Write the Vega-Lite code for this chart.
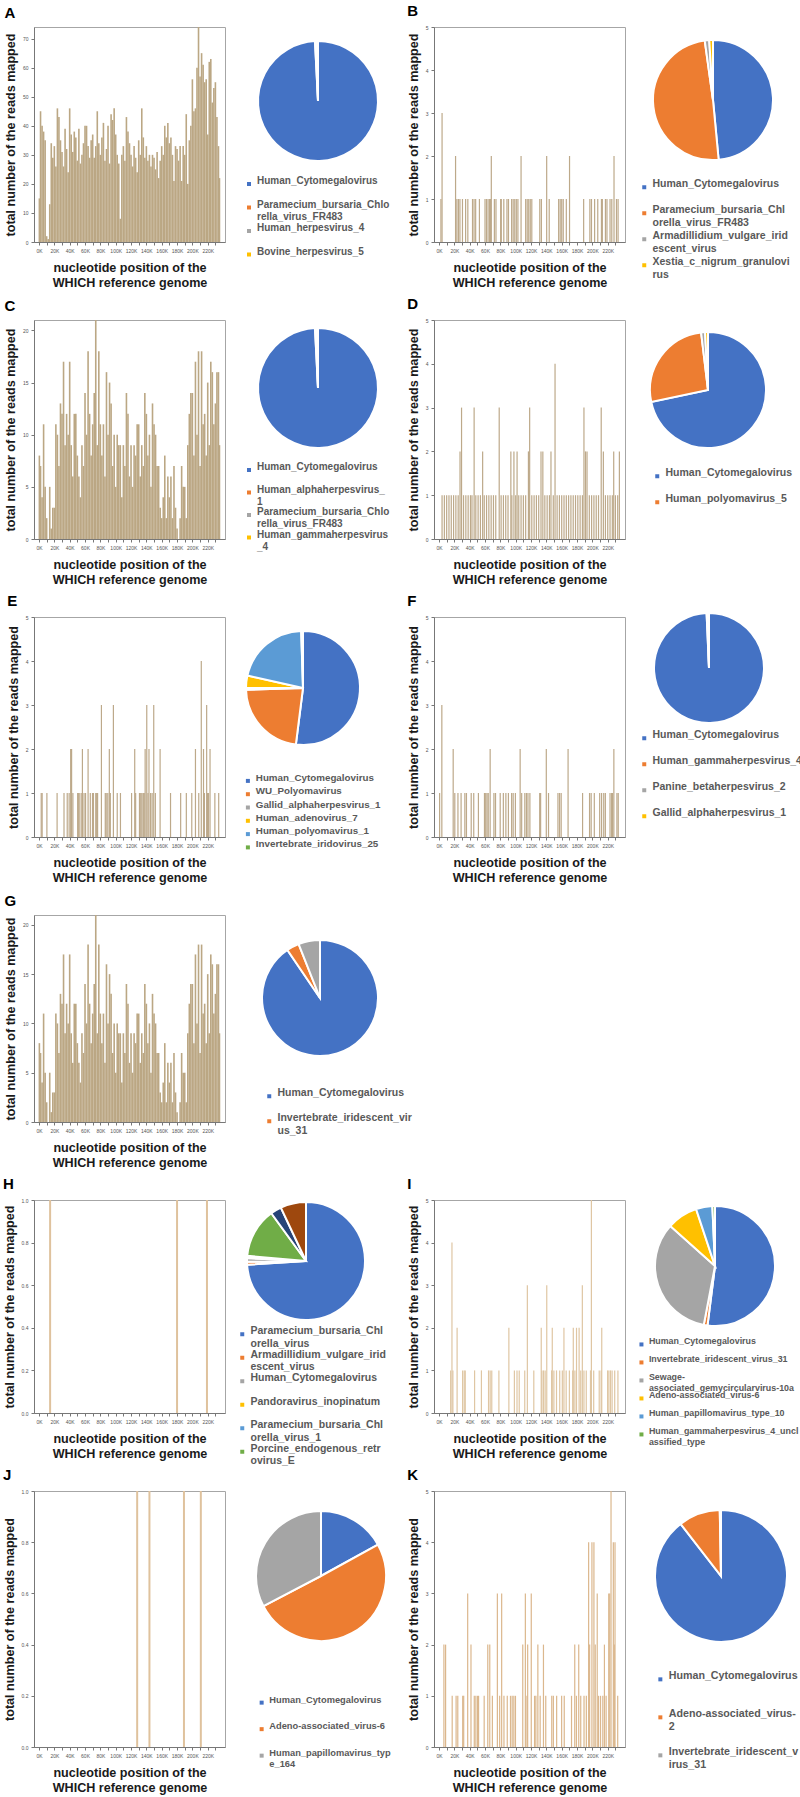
{
"$schema": "https://vega.github.io/schema/vega-lite/v6.json",
"padding": {"left": 2, "top": 3, "right": 0, "bottom": 0},
"config": {
  "font": "Liberation Sans",
  "view": {"stroke": "#a6a6a6"},
  "axis": {"grid": false, "labelFontSize": 5, "labelColor": "#555555", "tickColor": "#777777", "domainColor": "#777777", "tickSize": 3, "labelPadding": 3, "titleFontSize": 12.6, "titleFontWeight": "bold", "titleColor": "#1a1a1a", "labelOverlap": false, "labelFlush": false},
  "axisX": {"titlePadding": 8, "titleLineHeight": 15},
  "axisY": {"titlePadding": 5},
  "title": {"fontSize": 15, "fontWeight": "bold", "anchor": "start", "frame": "bounds", "offset": 6, "color": "#000000"},
  "legend": {"direction": "vertical", "columns": 1, "gridAlign": "all", "symbolType": "square", "symbolSize": 16, "symbolStrokeWidth": 0, "labelFontWeight": "bold", "labelColor": "#595959", "labelLimit": 400, "padding": 0, "labelOffset": 3, "labelBaseline": "alphabetic", "title": null}
},
"datasets": {
  "A": [{"pos":500,"reads":15},{"pos":2000,"reads":45},{"pos":4000,"reads":40},{"pos":6000,"reads":38},{"pos":8000,"reads":35},{"pos":10000,"reads":2},{"pos":12000,"reads":1},{"pos":14000,"reads":13},{"pos":16000,"reads":34},{"pos":18000,"reads":29},{"pos":20000,"reads":33},{"pos":22000,"reads":26},{"pos":24000,"reads":46},{"pos":26000,"reads":43},{"pos":28000,"reads":35},{"pos":30000,"reads":31},{"pos":32000,"reads":26},{"pos":34000,"reads":39},{"pos":36000,"reads":32},{"pos":38000,"reads":24},{"pos":40000,"reads":46},{"pos":42000,"reads":37},{"pos":44000,"reads":31},{"pos":46000,"reads":38},{"pos":48000,"reads":36},{"pos":50000,"reads":28},{"pos":52000,"reads":39},{"pos":54000,"reads":27},{"pos":56000,"reads":30},{"pos":58000,"reads":34},{"pos":60000,"reads":40},{"pos":62000,"reads":40},{"pos":64000,"reads":33},{"pos":66000,"reads":29},{"pos":68000,"reads":35},{"pos":70000,"reads":37},{"pos":72000,"reads":29},{"pos":74000,"reads":33},{"pos":76000,"reads":45},{"pos":78000,"reads":34},{"pos":80000,"reads":30},{"pos":82000,"reads":36},{"pos":84000,"reads":41},{"pos":86000,"reads":28},{"pos":88000,"reads":32},{"pos":90000,"reads":40},{"pos":92000,"reads":27},{"pos":94000,"reads":44},{"pos":96000,"reads":42},{"pos":98000,"reads":46},{"pos":100000,"reads":37},{"pos":102000,"reads":30},{"pos":104000,"reads":27},{"pos":106000,"reads":8},{"pos":108000,"reads":30},{"pos":110000,"reads":33},{"pos":112000,"reads":28},{"pos":114000,"reads":43},{"pos":116000,"reads":38},{"pos":118000,"reads":34},{"pos":120000,"reads":30},{"pos":122000,"reads":26},{"pos":124000,"reads":33},{"pos":126000,"reads":29},{"pos":128000,"reads":24},{"pos":130000,"reads":35},{"pos":132000,"reads":30},{"pos":134000,"reads":46},{"pos":136000,"reads":36},{"pos":138000,"reads":29},{"pos":140000,"reads":33},{"pos":142000,"reads":28},{"pos":144000,"reads":30},{"pos":146000,"reads":26},{"pos":148000,"reads":30},{"pos":150000,"reads":29},{"pos":152000,"reads":25},{"pos":154000,"reads":31},{"pos":156000,"reads":22},{"pos":158000,"reads":28},{"pos":160000,"reads":33},{"pos":162000,"reads":30},{"pos":164000,"reads":40},{"pos":166000,"reads":36},{"pos":168000,"reads":41},{"pos":170000,"reads":34},{"pos":172000,"reads":36},{"pos":174000,"reads":30},{"pos":176000,"reads":21},{"pos":178000,"reads":33},{"pos":180000,"reads":32},{"pos":182000,"reads":28},{"pos":184000,"reads":33},{"pos":186000,"reads":21},{"pos":188000,"reads":33},{"pos":190000,"reads":30},{"pos":192000,"reads":44},{"pos":194000,"reads":20},{"pos":196000,"reads":35},{"pos":198000,"reads":40},{"pos":200000,"reads":56},{"pos":202000,"reads":45},{"pos":204000,"reads":46},{"pos":206000,"reads":60},{"pos":208000,"reads":74},{"pos":210000,"reads":57},{"pos":212000,"reads":65},{"pos":214000,"reads":61},{"pos":216000,"reads":55},{"pos":218000,"reads":56},{"pos":220000,"reads":37},{"pos":222000,"reads":62},{"pos":224000,"reads":63},{"pos":226000,"reads":48},{"pos":228000,"reads":53},{"pos":230000,"reads":55},{"pos":232000,"reads":43},{"pos":234000,"reads":33},{"pos":235300,"reads":22}],
  "C": [{"pos":500,"reads":8},{"pos":2000,"reads":7},{"pos":4000,"reads":4},{"pos":6000,"reads":11},{"pos":8000,"reads":5},{"pos":10000,"reads":2},{"pos":14000,"reads":5},{"pos":16000,"reads":1},{"pos":18000,"reads":3},{"pos":20000,"reads":3},{"pos":22000,"reads":11},{"pos":24000,"reads":10},{"pos":26000,"reads":7},{"pos":28000,"reads":13},{"pos":30000,"reads":12},{"pos":32000,"reads":17},{"pos":34000,"reads":9},{"pos":36000,"reads":12},{"pos":38000,"reads":10},{"pos":40000,"reads":17},{"pos":42000,"reads":9},{"pos":44000,"reads":6},{"pos":46000,"reads":12},{"pos":48000,"reads":12},{"pos":50000,"reads":8},{"pos":52000,"reads":6},{"pos":54000,"reads":4},{"pos":56000,"reads":9},{"pos":58000,"reads":7},{"pos":60000,"reads":14},{"pos":62000,"reads":10},{"pos":64000,"reads":18},{"pos":66000,"reads":12},{"pos":68000,"reads":8},{"pos":70000,"reads":11},{"pos":72000,"reads":14},{"pos":74000,"reads":21},{"pos":76000,"reads":9},{"pos":78000,"reads":18},{"pos":80000,"reads":11},{"pos":82000,"reads":8},{"pos":84000,"reads":11},{"pos":86000,"reads":6},{"pos":88000,"reads":16},{"pos":90000,"reads":10},{"pos":92000,"reads":15},{"pos":94000,"reads":13},{"pos":96000,"reads":7},{"pos":98000,"reads":10},{"pos":100000,"reads":5},{"pos":102000,"reads":10},{"pos":104000,"reads":9},{"pos":106000,"reads":9},{"pos":108000,"reads":4},{"pos":110000,"reads":9},{"pos":112000,"reads":7},{"pos":114000,"reads":14},{"pos":116000,"reads":12},{"pos":118000,"reads":6},{"pos":120000,"reads":9},{"pos":122000,"reads":5},{"pos":124000,"reads":9},{"pos":126000,"reads":8},{"pos":128000,"reads":11},{"pos":130000,"reads":11},{"pos":132000,"reads":6},{"pos":134000,"reads":9},{"pos":136000,"reads":7},{"pos":138000,"reads":14},{"pos":140000,"reads":12},{"pos":142000,"reads":8},{"pos":144000,"reads":10},{"pos":146000,"reads":5},{"pos":148000,"reads":13},{"pos":150000,"reads":11},{"pos":152000,"reads":10},{"pos":154000,"reads":7},{"pos":156000,"reads":7},{"pos":158000,"reads":3},{"pos":160000,"reads":2},{"pos":162000,"reads":4},{"pos":164000,"reads":8},{"pos":166000,"reads":2},{"pos":168000,"reads":6},{"pos":170000,"reads":4},{"pos":172000,"reads":6},{"pos":174000,"reads":2},{"pos":176000,"reads":7},{"pos":178000,"reads":3},{"pos":180000,"reads":1},{"pos":184000,"reads":2},{"pos":186000,"reads":7},{"pos":188000,"reads":5},{"pos":190000,"reads":5},{"pos":192000,"reads":2},{"pos":194000,"reads":9},{"pos":196000,"reads":12},{"pos":198000,"reads":14},{"pos":200000,"reads":14},{"pos":202000,"reads":8},{"pos":204000,"reads":17},{"pos":206000,"reads":10},{"pos":208000,"reads":18},{"pos":210000,"reads":7},{"pos":212000,"reads":18},{"pos":214000,"reads":11},{"pos":216000,"reads":12},{"pos":218000,"reads":8},{"pos":220000,"reads":15},{"pos":222000,"reads":9},{"pos":224000,"reads":17},{"pos":226000,"reads":16},{"pos":228000,"reads":11},{"pos":230000,"reads":13},{"pos":232000,"reads":16},{"pos":234000,"reads":16},{"pos":235300,"reads":9}],
  "B": [{"pos":2500,"reads":1},{"pos":4000,"reads":3},{"pos":21600,"reads":2},{"pos":23300,"reads":1},{"pos":25300,"reads":1},{"pos":27300,"reads":1},{"pos":30600,"reads":1},{"pos":34700,"reads":1},{"pos":37600,"reads":1},{"pos":43700,"reads":1},{"pos":45700,"reads":1},{"pos":47800,"reads":1},{"pos":52700,"reads":1},{"pos":60000,"reads":1},{"pos":62000,"reads":1},{"pos":64000,"reads":1},{"pos":66000,"reads":1},{"pos":67300,"reads":1},{"pos":68200,"reads":2},{"pos":72200,"reads":1},{"pos":74300,"reads":1},{"pos":80400,"reads":1},{"pos":81200,"reads":1},{"pos":84500,"reads":1},{"pos":88600,"reads":1},{"pos":90600,"reads":1},{"pos":94700,"reads":1},{"pos":96700,"reads":1},{"pos":98800,"reads":1},{"pos":100800,"reads":1},{"pos":102900,"reads":1},{"pos":107000,"reads":2},{"pos":113000,"reads":1},{"pos":115000,"reads":1},{"pos":117000,"reads":1},{"pos":119000,"reads":1},{"pos":121000,"reads":1},{"pos":131400,"reads":1},{"pos":133500,"reads":1},{"pos":140400,"reads":2},{"pos":143700,"reads":1},{"pos":156000,"reads":1},{"pos":158000,"reads":1},{"pos":160000,"reads":1},{"pos":162000,"reads":1},{"pos":166000,"reads":1},{"pos":170200,"reads":2},{"pos":188600,"reads":1},{"pos":196700,"reads":1},{"pos":198800,"reads":1},{"pos":202900,"reads":1},{"pos":207000,"reads":1},{"pos":211800,"reads":1},{"pos":213000,"reads":1},{"pos":217000,"reads":1},{"pos":219000,"reads":1},{"pos":223000,"reads":1},{"pos":225300,"reads":1},{"pos":228200,"reads":2},{"pos":231400,"reads":1},{"pos":233500,"reads":1}],
  "D": [{"pos":27400,"reads":2},{"pos":29400,"reads":3},{"pos":45800,"reads":3},{"pos":56900,"reads":2},{"pos":78500,"reads":3},{"pos":93700,"reads":2},{"pos":97700,"reads":2},{"pos":101800,"reads":2},{"pos":116600,"reads":2},{"pos":118200,"reads":3},{"pos":133000,"reads":2},{"pos":135400,"reads":2},{"pos":146000,"reads":2},{"pos":151300,"reads":4},{"pos":189000,"reads":3},{"pos":191000,"reads":2},{"pos":193000,"reads":2},{"pos":211500,"reads":3},{"pos":214300,"reads":2},{"pos":227800,"reads":2},{"pos":235200,"reads":2},{"pos":4000,"reads":1},{"pos":7000,"reads":1},{"pos":10000,"reads":1},{"pos":13000,"reads":1},{"pos":16000,"reads":1},{"pos":19000,"reads":1},{"pos":22000,"reads":1},{"pos":25000,"reads":1},{"pos":32000,"reads":1},{"pos":35000,"reads":1},{"pos":38000,"reads":1},{"pos":41000,"reads":1},{"pos":43000,"reads":1},{"pos":48000,"reads":1},{"pos":51000,"reads":1},{"pos":54000,"reads":1},{"pos":59000,"reads":1},{"pos":62000,"reads":1},{"pos":65000,"reads":1},{"pos":68000,"reads":1},{"pos":71000,"reads":1},{"pos":74000,"reads":1},{"pos":81000,"reads":1},{"pos":84000,"reads":1},{"pos":87000,"reads":1},{"pos":90000,"reads":1},{"pos":95000,"reads":1},{"pos":100000,"reads":1},{"pos":104000,"reads":1},{"pos":107000,"reads":1},{"pos":110000,"reads":1},{"pos":113000,"reads":1},{"pos":121000,"reads":1},{"pos":124000,"reads":1},{"pos":127000,"reads":1},{"pos":130000,"reads":1},{"pos":138000,"reads":1},{"pos":141000,"reads":1},{"pos":144000,"reads":1},{"pos":149000,"reads":1},{"pos":154000,"reads":1},{"pos":157000,"reads":1},{"pos":160000,"reads":1},{"pos":163000,"reads":1},{"pos":166000,"reads":1},{"pos":169000,"reads":1},{"pos":172000,"reads":1},{"pos":175000,"reads":1},{"pos":178000,"reads":1},{"pos":181000,"reads":1},{"pos":184000,"reads":1},{"pos":187000,"reads":1},{"pos":196000,"reads":1},{"pos":199000,"reads":1},{"pos":202000,"reads":1},{"pos":205000,"reads":1},{"pos":208000,"reads":1},{"pos":217000,"reads":1},{"pos":220000,"reads":1},{"pos":223000,"reads":1},{"pos":226000,"reads":1},{"pos":230000,"reads":1},{"pos":233000,"reads":1}],
  "E": [{"pos":81400,"reads":3},{"pos":97000,"reads":3},{"pos":140500,"reads":3},{"pos":149600,"reads":3},{"pos":211600,"reads":4},{"pos":218600,"reads":3},{"pos":41300,"reads":2},{"pos":42500,"reads":2},{"pos":56600,"reads":2},{"pos":64000,"reads":2},{"pos":91700,"reads":2},{"pos":124800,"reads":2},{"pos":138400,"reads":2},{"pos":143400,"reads":2},{"pos":157900,"reads":2},{"pos":204000,"reads":2},{"pos":214500,"reads":2},{"pos":223000,"reads":2},{"pos":2900,"reads":1},{"pos":4100,"reads":1},{"pos":10300,"reads":1},{"pos":23600,"reads":1},{"pos":32600,"reads":1},{"pos":36800,"reads":1},{"pos":39300,"reads":1},{"pos":44200,"reads":1},{"pos":50400,"reads":1},{"pos":51700,"reads":1},{"pos":53300,"reads":1},{"pos":55800,"reads":1},{"pos":58700,"reads":1},{"pos":60700,"reads":1},{"pos":66900,"reads":1},{"pos":69800,"reads":1},{"pos":71000,"reads":1},{"pos":74000,"reads":1},{"pos":75200,"reads":1},{"pos":76400,"reads":1},{"pos":86400,"reads":1},{"pos":87600,"reads":1},{"pos":89700,"reads":1},{"pos":93000,"reads":1},{"pos":102000,"reads":1},{"pos":106200,"reads":1},{"pos":120700,"reads":1},{"pos":126000,"reads":1},{"pos":131000,"reads":1},{"pos":131800,"reads":1},{"pos":133000,"reads":1},{"pos":134300,"reads":1},{"pos":136000,"reads":1},{"pos":137200,"reads":1},{"pos":142100,"reads":1},{"pos":145500,"reads":1},{"pos":147500,"reads":1},{"pos":151700,"reads":1},{"pos":171500,"reads":1},{"pos":184700,"reads":1},{"pos":192100,"reads":1},{"pos":199200,"reads":1},{"pos":208300,"reads":1},{"pos":215700,"reads":1},{"pos":219800,"reads":1},{"pos":221000,"reads":1},{"pos":229300,"reads":1},{"pos":234300,"reads":1}],
  "F": [{"pos":3700,"reads":3},{"pos":18500,"reads":2},{"pos":66700,"reads":2},{"pos":105800,"reads":2},{"pos":139900,"reads":2},{"pos":168300,"reads":2},{"pos":228000,"reads":2},{"pos":800,"reads":1},{"pos":20600,"reads":1},{"pos":24700,"reads":1},{"pos":28800,"reads":1},{"pos":33700,"reads":1},{"pos":35800,"reads":1},{"pos":42000,"reads":1},{"pos":45300,"reads":1},{"pos":51400,"reads":1},{"pos":59300,"reads":1},{"pos":60900,"reads":1},{"pos":62600,"reads":1},{"pos":64200,"reads":1},{"pos":71600,"reads":1},{"pos":73700,"reads":1},{"pos":79800,"reads":1},{"pos":83900,"reads":1},{"pos":87200,"reads":1},{"pos":90500,"reads":1},{"pos":94700,"reads":1},{"pos":96700,"reads":1},{"pos":99600,"reads":1},{"pos":107800,"reads":1},{"pos":111900,"reads":1},{"pos":114000,"reads":1},{"pos":116000,"reads":1},{"pos":118500,"reads":1},{"pos":131300,"reads":1},{"pos":132500,"reads":1},{"pos":142800,"reads":1},{"pos":155100,"reads":1},{"pos":157200,"reads":1},{"pos":159300,"reads":1},{"pos":187200,"reads":1},{"pos":196300,"reads":1},{"pos":198400,"reads":1},{"pos":202500,"reads":1},{"pos":209500,"reads":1},{"pos":212000,"reads":1},{"pos":214800,"reads":1},{"pos":216900,"reads":1},{"pos":223000,"reads":1},{"pos":225100,"reads":1},{"pos":226300,"reads":1},{"pos":232000,"reads":1},{"pos":233700,"reads":1}],
  "H": [{"pos":14500,"reads":1},{"pos":180000,"reads":1},{"pos":219000,"reads":1}],
  "I": [{"pos":16900,"reads":4},{"pos":198700,"reads":5},{"pos":115200,"reads":3},{"pos":140500,"reads":3},{"pos":186900,"reads":3},{"pos":23600,"reads":2},{"pos":91100,"reads":2},{"pos":133300,"reads":2},{"pos":147700,"reads":2},{"pos":162900,"reads":2},{"pos":175100,"reads":2},{"pos":179300,"reads":2},{"pos":182700,"reads":2},{"pos":212200,"reads":2},{"pos":15200,"reads":1},{"pos":18100,"reads":1},{"pos":30800,"reads":1},{"pos":32900,"reads":1},{"pos":34200,"reads":1},{"pos":46400,"reads":1},{"pos":55300,"reads":1},{"pos":64600,"reads":1},{"pos":66700,"reads":1},{"pos":68800,"reads":1},{"pos":78100,"reads":1},{"pos":98300,"reads":1},{"pos":101700,"reads":1},{"pos":104600,"reads":1},{"pos":111800,"reads":1},{"pos":123600,"reads":1},{"pos":134200,"reads":1},{"pos":136300,"reads":1},{"pos":138400,"reads":1},{"pos":146800,"reads":1},{"pos":149800,"reads":1},{"pos":153200,"reads":1},{"pos":157400,"reads":1},{"pos":160800,"reads":1},{"pos":165800,"reads":1},{"pos":170000,"reads":1},{"pos":174300,"reads":1},{"pos":177200,"reads":1},{"pos":184800,"reads":1},{"pos":189000,"reads":1},{"pos":192000,"reads":1},{"pos":197500,"reads":1},{"pos":201700,"reads":1},{"pos":208900,"reads":1},{"pos":211400,"reads":1},{"pos":219800,"reads":1},{"pos":221500,"reads":1},{"pos":223600,"reads":1},{"pos":225700,"reads":1},{"pos":229100,"reads":1},{"pos":233300,"reads":1}],
  "J": [{"pos":128000,"reads":1},{"pos":144000,"reads":1},{"pos":189000,"reads":1},{"pos":211000,"reads":1}],
  "K": [{"pos":6400,"reads":2},{"pos":8600,"reads":2},{"pos":17200,"reads":1},{"pos":22300,"reads":1},{"pos":24500,"reads":1},{"pos":30900,"reads":1},{"pos":32200,"reads":1},{"pos":37400,"reads":3},{"pos":41700,"reads":2},{"pos":46000,"reads":1},{"pos":48100,"reads":1},{"pos":50300,"reads":1},{"pos":51600,"reads":1},{"pos":58900,"reads":1},{"pos":63600,"reads":2},{"pos":66200,"reads":2},{"pos":69600,"reads":1},{"pos":76100,"reads":3},{"pos":79100,"reads":1},{"pos":81700,"reads":3},{"pos":84700,"reads":1},{"pos":89000,"reads":1},{"pos":93200,"reads":1},{"pos":95400,"reads":1},{"pos":97600,"reads":1},{"pos":99700,"reads":1},{"pos":109200,"reads":2},{"pos":112600,"reads":3},{"pos":114700,"reads":1},{"pos":115600,"reads":2},{"pos":120300,"reads":3},{"pos":124600,"reads":1},{"pos":126300,"reads":1},{"pos":128900,"reads":2},{"pos":131900,"reads":1},{"pos":136200,"reads":2},{"pos":139200,"reads":1},{"pos":147000,"reads":1},{"pos":149100,"reads":1},{"pos":153400,"reads":1},{"pos":159900,"reads":1},{"pos":163300,"reads":1},{"pos":172800,"reads":1},{"pos":177000,"reads":2},{"pos":179200,"reads":1},{"pos":182200,"reads":2},{"pos":184800,"reads":1},{"pos":189100,"reads":1},{"pos":192100,"reads":1},{"pos":195100,"reads":4},{"pos":196400,"reads":2},{"pos":199400,"reads":4},{"pos":202000,"reads":4},{"pos":203700,"reads":2},{"pos":206300,"reads":3},{"pos":208000,"reads":1},{"pos":210600,"reads":1},{"pos":213600,"reads":1},{"pos":215700,"reads":2},{"pos":217900,"reads":1},{"pos":221300,"reads":3},{"pos":222600,"reads":3},{"pos":224300,"reads":5},{"pos":227300,"reads":4},{"pos":228600,"reads":2},{"pos":229500,"reads":4},{"pos":233000,"reads":1}],
  "pA": [{"name":"Human_Cytomegalovirus","k":1,"v":99.2},{"name":"Paramecium_bursaria_Chlorella_virus_FR483","k":2,"v":0.35},{"name":"Human_herpesvirus_4","k":3,"v":0.25},{"name":"Bovine_herpesvirus_5","k":4,"v":0.2}],
  "pB": [{"name":"Human_Cytomegalovirus","k":1,"v":48.5},{"name":"Paramecium_bursaria_Chlorella_virus_FR483","k":2,"v":49.3},{"name":"Armadillidium_vulgare_iridescent_virus","k":3,"v":1.2},{"name":"Xestia_c_nigrum_granulovirus","k":4,"v":1.0}],
  "pC": [{"name":"Human_Cytomegalovirus","k":1,"v":99.2},{"name":"Human_alphaherpesvirus_1","k":2,"v":0.3},{"name":"Paramecium_bursaria_Chlorella_virus_FR483","k":3,"v":0.25},{"name":"Human_gammaherpesvirus_4","k":4,"v":0.25}],
  "pD": [{"name":"Human_Cytomegalovirus","k":1,"v":71.7},{"name":"Human_polyomavirus_5","k":2,"v":26.4},{"name":"Other_species_3","k":3,"v":1.1},{"name":"Other_species_4","k":4,"v":0.8}],
  "pE": [{"name":"Human_Cytomegalovirus","k":1,"v":52},{"name":"WU_Polyomavirus","k":2,"v":22.5},{"name":"Gallid_alphaherpesvirus_1","k":3,"v":0.5},{"name":"Human_adenovirus_7","k":4,"v":3.5},{"name":"Human_polyomavirus_1","k":5,"v":21},{"name":"Invertebrate_iridovirus_25","k":6,"v":0.5}],
  "pF": [{"name":"Human_Cytomegalovirus","k":1,"v":99.3},{"name":"Human_gammaherpesvirus_4","k":2,"v":0.25},{"name":"Panine_betaherpesvirus_2","k":3,"v":0.25},{"name":"Gallid_alphaherpesvirus_1","k":4,"v":0.2}],
  "pG": [{"name":"Human_Cytomegalovirus","k":1,"v":90.5},{"name":"Invertebrate_iridescent_virus_31","k":2,"v":3.5},{"name":"Other_species_3","k":3,"v":6.0}],
  "pH": [{"name":"Paramecium_bursaria_Chlorella_virus","k":1,"v":74},{"name":"Armadillidium_vulgare_iridescent_virus","k":2,"v":0.8},{"name":"Human_Cytomegalovirus","k":3,"v":1.0},{"name":"Pandoravirus_inopinatum","k":4,"v":0.3},{"name":"Paramecium_bursaria_Chlorella_virus_1","k":5,"v":0.3},{"name":"Porcine_endogenous_retrovirus_E","k":6,"v":13.6},{"name":"Other_species_7","k":7,"v":3.0},{"name":"Other_species_8","k":8,"v":7.0}],
  "pI": [{"name":"Human_Cytomegalovirus","k":1,"v":52},{"name":"Invertebrate_iridescent_virus_31","k":2,"v":1.0},{"name":"Sewage-associated_gemycircularvirus-10a","k":3,"v":33.6},{"name":"Adeno-associated_virus-6","k":4,"v":8.3},{"name":"Human_papillomavirus_type_10","k":5,"v":4.4},{"name":"Human_gammaherpesvirus_4_unclassified_type","k":6,"v":0.7}],
  "pJ": [{"name":"Human_Cytomegalovirus","k":1,"v":17},{"name":"Adeno-associated_virus-6","k":2,"v":50.3},{"name":"Human_papillomavirus_type_164","k":3,"v":32.7}],
  "pK": [{"name":"Human_Cytomegalovirus","k":1,"v":89.5},{"name":"Adeno-associated_virus-2","k":2,"v":10.2},{"name":"Invertebrate_iridescent_virus_31","k":3,"v":0.3}]
},
"columns": 4,
"align": {"row": "each", "column": "all"},
"bounds": "flush",
"spacing": {"row": 78, "column": 9},
"resolve": {"scale": {"theta": "independent", "color": "independent"}, "legend": {"color": "independent"}},
"concat": [
  {"width": 191, "height": 215, "title": "A", "data": {"name": "A"},
   "mark": {"type": "bar", "orient": "vertical", "width": 1.6, "color": "#bba784"},
   "encoding": {
     "x": {"field": "pos", "type": "quantitative", "scale": {"domain": [0, 236000], "nice": false}, "axis": {"values": [0,10000,20000,30000,40000,50000,60000,70000,80000,90000,100000,110000,120000,130000,140000,150000,160000,170000,180000,190000,200000,210000,220000,230000], "labelExpr": "datum.value % 20000 == 0 ? (datum.value/1000) + 'K' : ''", "title": ["nucleotide position of the", "WHICH reference genome"]}},
     "y": {"field": "reads", "type": "quantitative", "stack": null, "scale": {"domain": [0, 74], "nice": false}, "axis": {"values": [0,10,20,30,40,50,60,70], "title": "total number of the reads mapped"}}}},
  {"width": 168, "height": 148, "view": {"stroke": null}, "data": {"name": "pA"},
   "mark": {"type": "arc", "outerRadius": 60, "stroke": "white", "strokeWidth": 2},
   "encoding": {
     "theta": {"field": "v", "type": "quantitative", "stack": true},
     "order": {"field": "k", "type": "quantitative"},
     "color": {"field": "name", "type": "nominal", "sort": {"field": "k", "op": "min"}, "scale": {"range": ["#4472C4","#ED7D31","#A5A5A5","#FFC000","#5B9BD5","#70AD47","#264478","#9E480E"]},
       "legend": {"orient": "none", "legendX": 10, "legendY": 152, "labelFontSize": 10, "rowPadding": 1.5, "labelExpr": "datum.label == 'Paramecium_bursaria_Chlorella_virus_FR483' ? ['Paramecium_bursaria_Chlo', 'rella_virus_FR483'] : datum.label"}}}},
  {"width": 191, "height": 215, "title": "B", "data": {"name": "B"},
   "mark": {"type": "bar", "orient": "vertical", "width": 1.2, "color": "#bda98a"},
   "encoding": {
     "x": {"field": "pos", "type": "quantitative", "scale": {"domain": [0, 236000], "nice": false}, "axis": {"values": [0,10000,20000,30000,40000,50000,60000,70000,80000,90000,100000,110000,120000,130000,140000,150000,160000,170000,180000,190000,200000,210000,220000,230000], "labelExpr": "datum.value % 20000 == 0 ? (datum.value/1000) + 'K' : ''", "title": ["nucleotide position of the", "WHICH reference genome"]}},
     "y": {"field": "reads", "type": "quantitative", "stack": null, "scale": {"domain": [0, 5], "nice": false}, "axis": {"values": [0,1,2,3,4,5], "title": "total number of the reads mapped"}}}},
  {"width": 158, "height": 146, "view": {"stroke": null}, "data": {"name": "pB"},
   "mark": {"type": "arc", "outerRadius": 60, "stroke": "white", "strokeWidth": 2},
   "encoding": {
     "theta": {"field": "v", "type": "quantitative", "stack": true},
     "order": {"field": "k", "type": "quantitative"},
     "color": {"field": "name", "type": "nominal", "sort": {"field": "k", "op": "min"}, "scale": {"range": ["#4472C4","#ED7D31","#A5A5A5","#FFC000","#5B9BD5","#70AD47","#264478","#9E480E"]},
       "legend": {"orient": "none", "legendX": 5, "legendY": 155, "labelFontSize": 10.5, "rowPadding": 2, "labelExpr": "datum.label == 'Paramecium_bursaria_Chlorella_virus_FR483' ? ['Paramecium_bursaria_Chl', 'orella_virus_FR483'] : datum.label == 'Armadillidium_vulgare_iridescent_virus' ? ['Armadillidium_vulgare_irid', 'escent_virus'] : datum.label == 'Xestia_c_nigrum_granulovirus' ? ['Xestia_c_nigrum_granulovi', 'rus'] : datum.label"}}}},

  {"width": 191, "height": 219, "title": "C", "data": {"name": "C"},
   "mark": {"type": "bar", "orient": "vertical", "width": 1.6, "color": "#bba784"},
   "encoding": {
     "x": {"field": "pos", "type": "quantitative", "scale": {"domain": [0, 236000], "nice": false}, "axis": {"values": [0,10000,20000,30000,40000,50000,60000,70000,80000,90000,100000,110000,120000,130000,140000,150000,160000,170000,180000,190000,200000,210000,220000,230000], "labelExpr": "datum.value % 20000 == 0 ? (datum.value/1000) + 'K' : ''", "title": ["nucleotide position of the", "WHICH reference genome"]}},
     "y": {"field": "reads", "type": "quantitative", "stack": null, "scale": {"domain": [0, 21], "nice": false}, "axis": {"values": [0,5,10,15,20], "title": "total number of the reads mapped"}}}},
  {"width": 168, "height": 136, "view": {"stroke": null}, "data": {"name": "pC"},
   "mark": {"type": "arc", "outerRadius": 60, "stroke": "white", "strokeWidth": 2},
   "encoding": {
     "theta": {"field": "v", "type": "quantitative", "stack": true},
     "order": {"field": "k", "type": "quantitative"},
     "color": {"field": "name", "type": "nominal", "sort": {"field": "k", "op": "min"}, "scale": {"range": ["#4472C4","#ED7D31","#A5A5A5","#FFC000","#5B9BD5","#70AD47","#264478","#9E480E"]},
       "legend": {"orient": "none", "legendX": 10, "legendY": 145, "labelFontSize": 10, "rowPadding": 0.5, "labelExpr": "datum.label == 'Human_alphaherpesvirus_1' ? ['Human_alphaherpesvirus_', '1'] : datum.label == 'Paramecium_bursaria_Chlorella_virus_FR483' ? ['Paramecium_bursaria_Chlo', 'rella_virus_FR483'] : datum.label == 'Human_gammaherpesvirus_4' ? ['Human_gammaherpesvirus', '_4'] : datum.label"}}}},
  {"width": 191, "height": 219, "title": "D", "data": {"name": "D"},
   "mark": {"type": "bar", "orient": "vertical", "width": 1.2, "color": "#bda98a"},
   "encoding": {
     "x": {"field": "pos", "type": "quantitative", "scale": {"domain": [0, 236000], "nice": false}, "axis": {"values": [0,10000,20000,30000,40000,50000,60000,70000,80000,90000,100000,110000,120000,130000,140000,150000,160000,170000,180000,190000,200000,210000,220000,230000], "labelExpr": "datum.value % 20000 == 0 ? (datum.value/1000) + 'K' : ''", "title": ["nucleotide position of the", "WHICH reference genome"]}},
     "y": {"field": "reads", "type": "quantitative", "stack": null, "scale": {"domain": [0, 5], "nice": false}, "axis": {"values": [0,1,2,3,4,5], "title": "total number of the reads mapped"}}}},
  {"width": 148, "height": 140, "view": {"stroke": null}, "data": {"name": "pD"},
   "mark": {"type": "arc", "outerRadius": 58, "stroke": "white", "strokeWidth": 2},
   "encoding": {
     "theta": {"field": "v", "type": "quantitative", "stack": true},
     "order": {"field": "k", "type": "quantitative"},
     "color": {"field": "name", "type": "nominal", "sort": {"field": "k", "op": "min"}, "scale": {"range": ["#4472C4","#ED7D31","#A5A5A5","#FFC000","#5B9BD5","#70AD47","#264478","#9E480E"]},
       "legend": {"orient": "none", "legendX": 18, "legendY": 151, "labelFontSize": 10.5, "rowPadding": 15, "values": ["Human_Cytomegalovirus", "Human_polyomavirus_5"]}}}},

  {"width": 191, "height": 220, "title": "E", "data": {"name": "E"},
   "mark": {"type": "bar", "orient": "vertical", "width": 1.2, "color": "#bda98a"},
   "encoding": {
     "x": {"field": "pos", "type": "quantitative", "scale": {"domain": [0, 236000], "nice": false}, "axis": {"values": [0,10000,20000,30000,40000,50000,60000,70000,80000,90000,100000,110000,120000,130000,140000,150000,160000,170000,180000,190000,200000,210000,220000,230000], "labelExpr": "datum.value % 20000 == 0 ? (datum.value/1000) + 'K' : ''", "title": ["nucleotide position of the", "WHICH reference genome"]}},
     "y": {"field": "reads", "type": "quantitative", "stack": null, "scale": {"domain": [0, 5], "nice": false}, "axis": {"values": [0,1,2,3,4,5], "title": "total number of the reads mapped"}}}},
  {"width": 138, "height": 142, "view": {"stroke": null}, "data": {"name": "pE"},
   "mark": {"type": "arc", "outerRadius": 57, "stroke": "white", "strokeWidth": 2},
   "encoding": {
     "theta": {"field": "v", "type": "quantitative", "stack": true},
     "order": {"field": "k", "type": "quantitative"},
     "color": {"field": "name", "type": "nominal", "sort": {"field": "k", "op": "min"}, "scale": {"range": ["#4472C4","#ED7D31","#A5A5A5","#FFC000","#5B9BD5","#70AD47","#264478","#9E480E"]},
       "legend": {"orient": "none", "legendX": 9, "legendY": 159, "labelFontSize": 9.8, "rowPadding": 2.3}}}},
  {"width": 191, "height": 220, "title": "F", "data": {"name": "F"},
   "mark": {"type": "bar", "orient": "vertical", "width": 1.2, "color": "#bda98a"},
   "encoding": {
     "x": {"field": "pos", "type": "quantitative", "scale": {"domain": [0, 236000], "nice": false}, "axis": {"values": [0,10000,20000,30000,40000,50000,60000,70000,80000,90000,100000,110000,120000,130000,140000,150000,160000,170000,180000,190000,200000,210000,220000,230000], "labelExpr": "datum.value % 20000 == 0 ? (datum.value/1000) + 'K' : ''", "title": ["nucleotide position of the", "WHICH reference genome"]}},
     "y": {"field": "reads", "type": "quantitative", "stack": null, "scale": {"domain": [0, 5], "nice": false}, "axis": {"values": [0,1,2,3,4,5], "title": "total number of the reads mapped"}}}},
  {"width": 150, "height": 102, "view": {"stroke": null}, "data": {"name": "pF"},
   "mark": {"type": "arc", "outerRadius": 55, "stroke": "white", "strokeWidth": 2},
   "encoding": {
     "theta": {"field": "v", "type": "quantitative", "stack": true},
     "order": {"field": "k", "type": "quantitative"},
     "color": {"field": "name", "type": "nominal", "sort": {"field": "k", "op": "min"}, "scale": {"range": ["#4472C4","#ED7D31","#A5A5A5","#FFC000","#5B9BD5","#70AD47","#264478","#9E480E"]},
       "legend": {"orient": "none", "legendX": 5, "legendY": 116, "labelFontSize": 10.5, "rowPadding": 15}}}},

  {"width": 191, "height": 207, "title": "G", "data": {"name": "C"},
   "mark": {"type": "bar", "orient": "vertical", "width": 1.6, "color": "#bba784"},
   "encoding": {
     "x": {"field": "pos", "type": "quantitative", "scale": {"domain": [0, 236000], "nice": false}, "axis": {"values": [0,10000,20000,30000,40000,50000,60000,70000,80000,90000,100000,110000,120000,130000,140000,150000,160000,170000,180000,190000,200000,210000,220000,230000], "labelExpr": "datum.value % 20000 == 0 ? (datum.value/1000) + 'K' : ''", "title": ["nucleotide position of the", "WHICH reference genome"]}},
     "y": {"field": "reads", "type": "quantitative", "stack": null, "scale": {"domain": [0, 21], "nice": false}, "axis": {"values": [0,5,10,15,20], "title": "total number of the reads mapped"}}}},
  {"width": 172, "height": 166, "view": {"stroke": null}, "data": {"name": "pG"},
   "mark": {"type": "arc", "outerRadius": 58, "stroke": "white", "strokeWidth": 2},
   "encoding": {
     "theta": {"field": "v", "type": "quantitative", "stack": true},
     "order": {"field": "k", "type": "quantitative"},
     "color": {"field": "name", "type": "nominal", "sort": {"field": "k", "op": "min"}, "scale": {"range": ["#4472C4","#ED7D31","#A5A5A5","#FFC000","#5B9BD5","#70AD47","#264478","#9E480E"]},
       "legend": {"orient": "none", "legendX": 30, "legendY": 176, "labelFontSize": 10.5, "rowPadding": 1, "values": ["Human_Cytomegalovirus", "Invertebrate_iridescent_virus_31"], "labelExpr": "datum.label == 'Invertebrate_iridescent_virus_31' ? ['Invertebrate_iridescent_vir', 'us_31'] : datum.label"}}}},
  {"width": 10, "height": 10, "view": {"stroke": null}, "data": {"values": []}, "mark": "point"},
  {"width": 10, "height": 10, "view": {"stroke": null}, "data": {"values": []}, "mark": "point"},

  {"width": 191, "height": 213, "title": "H", "data": {"name": "H"},
   "mark": {"type": "bar", "orient": "vertical", "width": 2, "color": "#dfc29d"},
   "encoding": {
     "x": {"field": "pos", "type": "quantitative", "scale": {"domain": [0, 236000], "nice": false}, "axis": {"values": [0,10000,20000,30000,40000,50000,60000,70000,80000,90000,100000,110000,120000,130000,140000,150000,160000,170000,180000,190000,200000,210000,220000,230000], "labelExpr": "datum.value % 20000 == 0 ? (datum.value/1000) + 'K' : ''", "title": ["nucleotide position of the", "WHICH reference genome"]}},
     "y": {"field": "reads", "type": "quantitative", "stack": null, "scale": {"domain": [0, 1], "nice": false}, "axis": {"values": [0,0.2,0.4,0.6,0.8,1.0], "format": ".1f", "title": "total number of the reads mapped"}}}},
  {"width": 144, "height": 122, "view": {"stroke": null}, "data": {"name": "pH"},
   "mark": {"type": "arc", "outerRadius": 59, "stroke": "white", "strokeWidth": 2},
   "encoding": {
     "theta": {"field": "v", "type": "quantitative", "stack": true},
     "order": {"field": "k", "type": "quantitative"},
     "color": {"field": "name", "type": "nominal", "sort": {"field": "k", "op": "min"}, "scale": {"range": ["#4472C4","#ED7D31","#A5A5A5","#FFC000","#5B9BD5","#70AD47","#264478","#9E480E"]},
       "legend": {"orient": "none", "legendX": 3, "legendY": 129, "labelFontSize": 10.5, "rowPadding": -0.5, "values": ["Paramecium_bursaria_Chlorella_virus", "Armadillidium_vulgare_iridescent_virus", "Human_Cytomegalovirus", "Pandoravirus_inopinatum", "Paramecium_bursaria_Chlorella_virus_1", "Porcine_endogenous_retrovirus_E"], "labelExpr": "datum.label == 'Paramecium_bursaria_Chlorella_virus' ? ['Paramecium_bursaria_Chl', 'orella_virus'] : datum.label == 'Armadillidium_vulgare_iridescent_virus' ? ['Armadillidium_vulgare_irid', 'escent_virus'] : datum.label == 'Paramecium_bursaria_Chlorella_virus_1' ? ['Paramecium_bursaria_Chl', 'orella_virus_1'] : datum.label == 'Porcine_endogenous_retrovirus_E' ? ['Porcine_endogenous_retr', 'ovirus_E'] : datum.label"}}}},
  {"width": 191, "height": 213, "title": "I", "data": {"name": "I"},
   "mark": {"type": "bar", "orient": "vertical", "width": 1.2, "color": "#dfc6a3"},
   "encoding": {
     "x": {"field": "pos", "type": "quantitative", "scale": {"domain": [0, 236000], "nice": false}, "axis": {"values": [0,10000,20000,30000,40000,50000,60000,70000,80000,90000,100000,110000,120000,130000,140000,150000,160000,170000,180000,190000,200000,210000,220000,230000], "labelExpr": "datum.value % 20000 == 0 ? (datum.value/1000) + 'K' : ''", "title": ["nucleotide position of the", "WHICH reference genome"]}},
     "y": {"field": "reads", "type": "quantitative", "stack": null, "scale": {"domain": [0, 5], "nice": false}, "axis": {"values": [0,1,2,3,4,5], "title": "total number of the reads mapped"}}}},
  {"width": 162, "height": 132, "view": {"stroke": null}, "data": {"name": "pI"},
   "mark": {"type": "arc", "outerRadius": 60, "stroke": "white", "strokeWidth": 2},
   "encoding": {
     "theta": {"field": "v", "type": "quantitative", "stack": true},
     "order": {"field": "k", "type": "quantitative"},
     "color": {"field": "name", "type": "nominal", "sort": {"field": "k", "op": "min"}, "scale": {"range": ["#4472C4","#ED7D31","#A5A5A5","#FFC000","#5B9BD5","#70AD47","#264478","#9E480E"]},
       "legend": {"orient": "none", "legendX": 3, "legendY": 140, "labelFontSize": 8.9, "rowPadding": -3.6, "labelExpr": "datum.label == 'Sewage-associated_gemycircularvirus-10a' ? ['Sewage-', 'associated_gemycircularvirus-10a'] : datum.label == 'Human_gammaherpesvirus_4_unclassified_type' ? ['Human_gammaherpesvirus_4_uncl', 'assified_type'] : datum.label"}}}},

  {"width": 191, "height": 256, "title": "J", "data": {"name": "J"},
   "mark": {"type": "bar", "orient": "vertical", "width": 2, "color": "#dfc29d"},
   "encoding": {
     "x": {"field": "pos", "type": "quantitative", "scale": {"domain": [0, 236000], "nice": false}, "axis": {"values": [0,10000,20000,30000,40000,50000,60000,70000,80000,90000,100000,110000,120000,130000,140000,150000,160000,170000,180000,190000,200000,210000,220000,230000], "labelExpr": "datum.value % 20000 == 0 ? (datum.value/1000) + 'K' : ''", "title": ["nucleotide position of the", "WHICH reference genome"]}},
     "y": {"field": "reads", "type": "quantitative", "stack": null, "scale": {"domain": [0, 1], "nice": false}, "axis": {"values": [0,0.2,0.4,0.6,0.8,1.0], "format": ".1f", "title": "total number of the reads mapped"}}}},
  {"width": 174, "height": 170, "view": {"stroke": null}, "data": {"name": "pJ"},
   "mark": {"type": "arc", "outerRadius": 65, "stroke": "white", "strokeWidth": 2},
   "encoding": {
     "theta": {"field": "v", "type": "quantitative", "stack": true},
     "order": {"field": "k", "type": "quantitative"},
     "color": {"field": "name", "type": "nominal", "sort": {"field": "k", "op": "min"}, "scale": {"range": ["#4472C4","#ED7D31","#A5A5A5","#FFC000","#5B9BD5","#70AD47","#264478","#9E480E"]},
       "legend": {"orient": "none", "legendX": 23, "legendY": 207, "labelFontSize": 9.3, "rowPadding": 4.5, "labelExpr": "datum.label == 'Human_papillomavirus_type_164' ? ['Human_papillomavirus_typ', 'e_164'] : datum.label"}}}},
  {"width": 191, "height": 256, "title": "K", "data": {"name": "K"},
   "mark": {"type": "bar", "orient": "vertical", "width": 1.2, "color": "#dbb78d"},
   "encoding": {
     "x": {"field": "pos", "type": "quantitative", "scale": {"domain": [0, 236000], "nice": false}, "axis": {"values": [0,10000,20000,30000,40000,50000,60000,70000,80000,90000,100000,110000,120000,130000,140000,150000,160000,170000,180000,190000,200000,210000,220000,230000], "labelExpr": "datum.value % 20000 == 0 ? (datum.value/1000) + 'K' : ''", "title": ["nucleotide position of the", "WHICH reference genome"]}},
     "y": {"field": "reads", "type": "quantitative", "stack": null, "scale": {"domain": [0, 5], "nice": false}, "axis": {"values": [0,1,2,3,4,5], "title": "total number of the reads mapped"}}}},
  {"width": 174, "height": 170, "view": {"stroke": null}, "data": {"name": "pK"},
   "mark": {"type": "arc", "outerRadius": 66, "stroke": "white", "strokeWidth": 2},
   "encoding": {
     "theta": {"field": "v", "type": "quantitative", "stack": true},
     "order": {"field": "k", "type": "quantitative"},
     "color": {"field": "name", "type": "nominal", "sort": {"field": "k", "op": "min"}, "scale": {"range": ["#4472C4","#ED7D31","#A5A5A5","#FFC000","#5B9BD5","#70AD47","#264478","#9E480E"]},
       "legend": {"orient": "none", "legendX": 21, "legendY": 183, "labelFontSize": 10.7, "rowPadding": 14, "labelExpr": "datum.label == 'Adeno-associated_virus-2' ? ['Adeno-associated_virus-', '2'] : datum.label == 'Invertebrate_iridescent_virus_31' ? ['Invertebrate_iridescent_v', 'irus_31'] : datum.label"}}}}
]
}
